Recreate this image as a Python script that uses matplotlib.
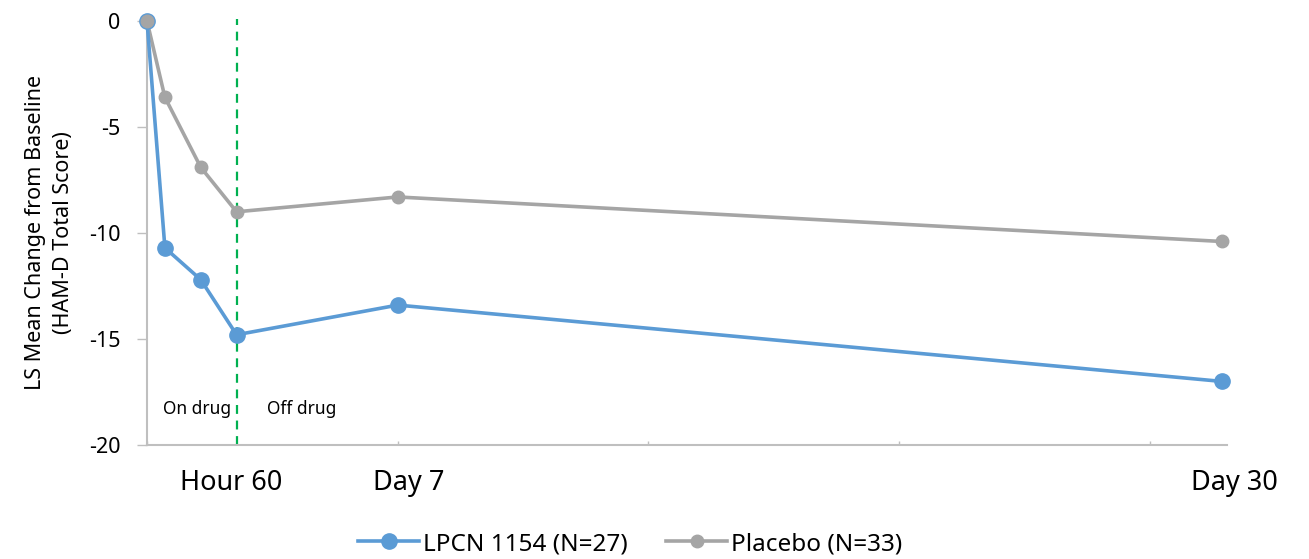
import matplotlib
matplotlib.use("Agg")
import matplotlib.pyplot as plt

days = [0, 0.5, 1.5, 2.5, 7, 30]
lpcn = [0, -10.7, -12.2, -14.8, -13.4, -17.0]
placebo = [0, -3.6, -6.9, -9.0, -8.3, -10.4]
x_labels = ["Hour 60", "Day 7", "Day 30"]
x_label_pos = [2.5, 7, 30]
y_ticks = [0, -5, -10, -15, -20]

plt.rcParams['font.family'] = ['Noto Sans', 'DejaVu Sans']

W, H = 1309, 559
fig = plt.figure(figsize=(W/100, H/100), dpi=100)
ax = fig.add_axes([147/W, 1-445/H, (1227-147)/W, (445-21)/H])

blue = '#5b9bd5'
gray = '#a5a5a5'
ax.plot(days, placebo, color=gray, lw=2.6, marker='o', ms=9, label='Placebo (N=33)', clip_on=False, zorder=3)
ax.plot(days, lpcn, color=blue, lw=2.6, marker='o', ms=11, label='LPCN 1154 (N=27)', clip_on=False, zorder=4)
ax.plot([days[0]], [placebo[0]], color=gray, marker='o', ms=9, ls='none', clip_on=False, zorder=5)

ax.plot([2.5, 2.5], [-20, 0.1], color='#00b050', lw=1.6, ls=(0, (4, 3)), clip_on=False, zorder=2)

ax.set_xlim(0, 30.15)
ax.set_ylim(-20, 0)
ax.set_yticks(y_ticks)
ax.set_yticklabels([str(v) for v in y_ticks], fontsize=15.5)
ax.set_xticks([0, 7, 14, 21, 28])
ax.set_xticklabels([])
ax.tick_params(axis='x', direction='in', length=3, color='#bfbfbf', width=1)
ax.tick_params(axis='y', direction='out', length=7, color='#bfbfbf', width=1, pad=12)
for s in ['top', 'right']:
    ax.spines[s].set_visible(False)
for s in ['left', 'bottom']:
    ax.spines[s].set_color('#bfbfbf')
    ax.spines[s].set_linewidth(1.5)

ax.set_ylabel('LS Mean Change from Baseline\n(HAM-D Total Score)', fontsize=15.5, labelpad=11, linespacing=1.4)

offsets = {"Hour 60": -4, "Day 7": 8, "Day 30": 9}
for lab, pos in zip(x_labels, x_label_pos):
    ax.annotate(lab, xy=(pos, -20), xytext=(offsets[lab], -17), textcoords='offset points',
                ha='center', va='top', fontsize=19.5)

ax.text(2.35, -18.3, 'On drug', ha='right', va='center', fontsize=12.5)
ax.text(3.35, -18.3, 'Off drug', ha='left', va='center', fontsize=12.5)

handles, labels = ax.get_legend_handles_labels()
leg = fig.legend(handles[::-1], labels[::-1], loc='center', bbox_to_anchor=(630/W, 1-544/H), ncol=2,
                 frameon=False, fontsize=17.5, handlelength=2.5, columnspacing=1.6, handletextpad=0.15)

fig.savefig('out.png', dpi=100)
